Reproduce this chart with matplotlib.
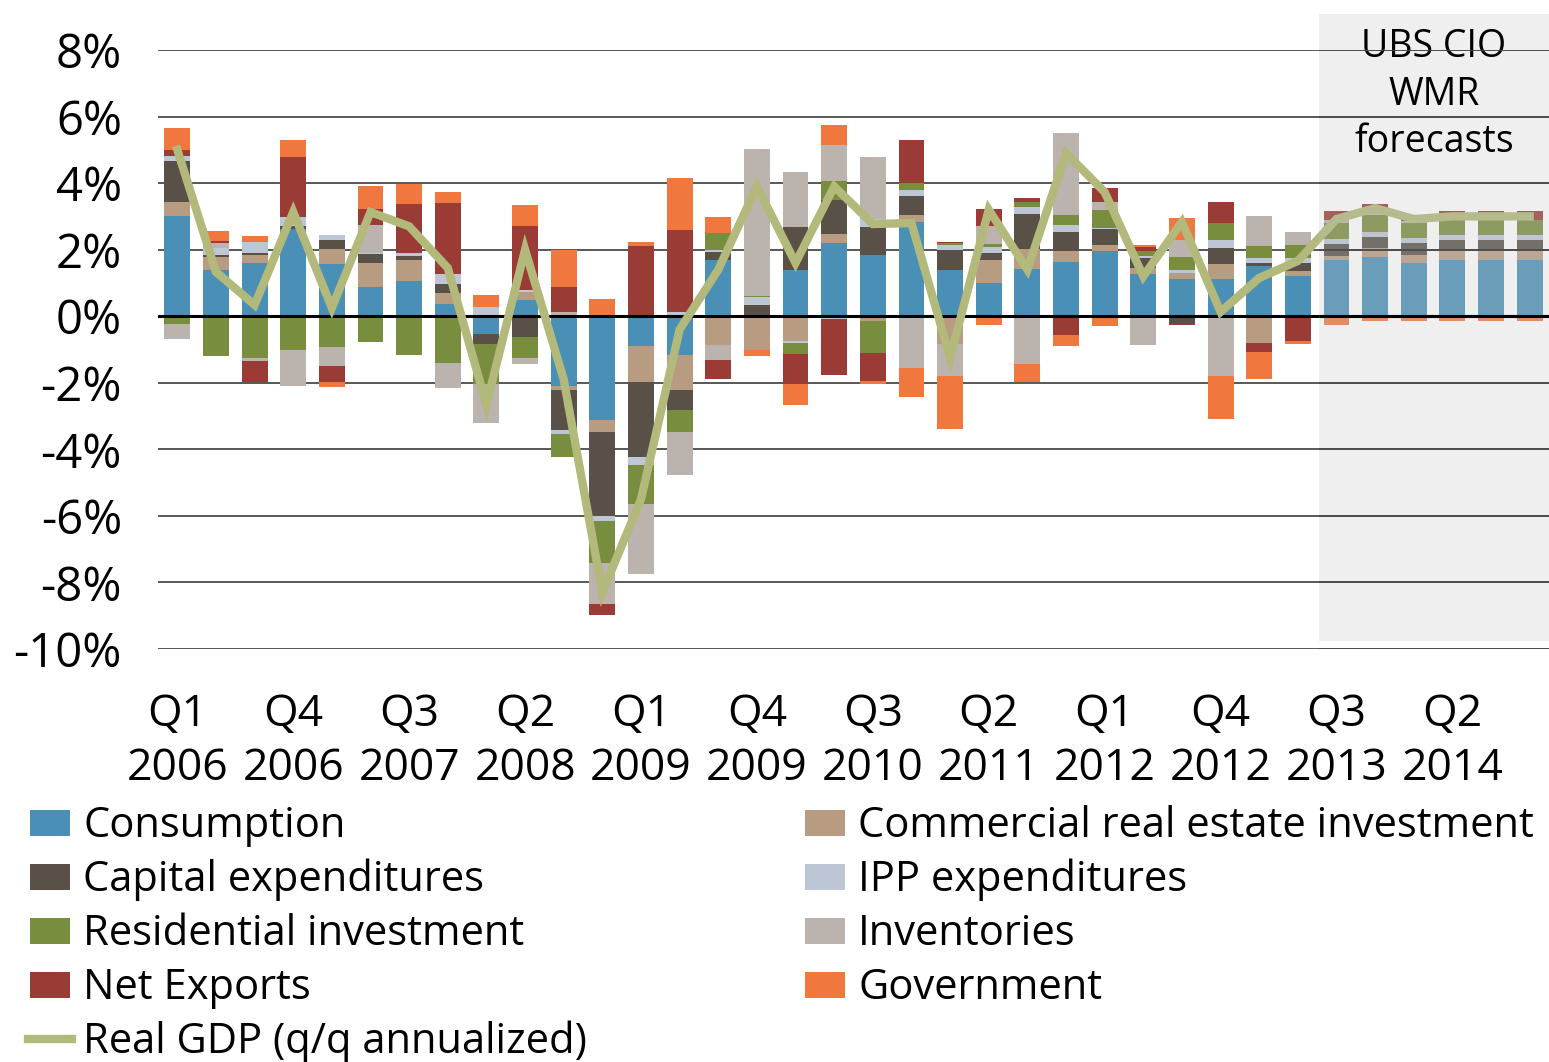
import matplotlib
matplotlib.use('Agg')
import matplotlib.pyplot as plt
from matplotlib.patches import Rectangle
from matplotlib.lines import Line2D
import numpy as np

plt.rcParams['font.family'] = ['Open Sans', 'DejaVu Sans']

# ── data: contributions to real GDP growth (pp, q/q annualized) ──
quarters = ["Q1 2006", "Q2 2006", "Q3 2006", "Q4 2006", "Q1 2007", "Q2 2007", "Q3 2007", "Q4 2007",
            "Q1 2008", "Q2 2008", "Q3 2008", "Q4 2008", "Q1 2009", "Q2 2009", "Q3 2009", "Q4 2009",
            "Q1 2010", "Q2 2010", "Q3 2010", "Q4 2010", "Q1 2011", "Q2 2011", "Q3 2011", "Q4 2011",
            "Q1 2012", "Q2 2012", "Q3 2012", "Q4 2012", "Q1 2013", "Q2 2013", "Q3 2013", "Q4 2013",
            "Q1 2014", "Q2 2014", "Q3 2014", "Q4 2014"]

consumption = [3.01, 1.39, 1.60, 2.62, 1.57, 0.88, 1.06, 0.37, -0.54, 0.48, -2.10, -3.12,
               -0.90, -1.17, 1.68, 0.00, 1.39, 2.20, 1.84, 2.83, 1.39, 1.00, 1.42, 1.63,
               1.96, 1.27, 1.12, 1.12, 1.51, 1.21, 1.69, 1.78, 1.60, 1.69, 1.69, 1.69]
commercial_re = [0.42, 0.40, 0.24, 0.00, 0.45, 0.72, 0.63, 0.33, 0.00, 0.24, -0.12, -0.36,
                 -1.08, -1.05, -0.87, -1.01, -0.74, 0.27, -0.14, 0.21, -0.83, 0.69, 0.60, 0.33,
                 0.18, 0.18, 0.18, 0.45, -0.80, 0.15, 0.12, 0.27, 0.24, 0.27, 0.27, 0.27]
capex = [1.23, 0.06, 0.06, 0.09, 0.27, 0.27, 0.12, 0.27, -0.30, -0.63, -1.20, -2.52,
         -2.25, -0.60, 0.24, 0.34, 1.29, 1.02, 0.84, 0.57, 0.60, 0.21, 1.05, 0.57,
         0.48, 0.30, -0.23, 0.48, 0.09, 0.24, 0.36, 0.33, 0.36, 0.33, 0.33, 0.33]
ipp = [0.15, 0.21, 0.33, 0.27, 0.15, 0.03, 0.09, 0.30, 0.27, 0.06, -0.12, -0.15,
       -0.24, 0.12, 0.06, 0.24, -0.06, -0.08, 0.24, 0.18, 0.15, 0.18, 0.21, 0.21,
       0.03, 0.06, 0.09, 0.24, 0.15, 0.15, 0.15, 0.15, 0.15, 0.15, 0.15, 0.15]
residential = [-0.23, -1.19, -1.25, -1.01, -0.92, -0.77, -1.16, -1.40, -1.20, -0.63, -0.69, -1.26,
               -1.17, -0.66, 0.51, 0.04, -0.33, 0.57, -0.96, 0.21, 0.06, 0.09, 0.15, 0.30,
               0.54, 0.15, 0.39, 0.51, 0.36, 0.39, 0.48, 0.51, 0.45, 0.45, 0.45, 0.45]
inventories = [-0.45, 0.14, -0.09, -1.10, -0.57, 0.84, 0.00, -0.75, -1.17, -0.18, 0.12, -1.23,
               -2.10, -1.29, -0.45, 4.40, 1.65, 1.08, 1.86, -1.55, -0.96, 0.54, -1.43, 2.46,
               0.24, -0.86, 0.51, -1.79, 0.90, 0.39, 0.09, 0.10, 0.06, 0.00, 0.00, 0.00]
net_exports = [0.18, 0.06, -0.63, 1.80, -0.48, 0.48, 1.47, 2.13, 0.00, 1.92, 0.75, -0.33,
               2.10, 2.46, -0.57, 0.00, -0.90, -1.68, -0.84, 1.29, 0.03, 0.51, 0.12, -0.56,
               0.42, 0.12, -0.03, 0.63, -0.27, -0.74, 0.27, 0.23, 0.18, 0.27, 0.27, 0.27]
government = [0.66, 0.30, 0.18, 0.51, -0.17, 0.69, 0.61, 0.33, 0.36, 0.63, 1.11, 0.51,
              0.12, 1.56, 0.48, -0.18, -0.63, 0.60, -0.09, -0.87, -1.59, -0.26, -0.54, -0.33,
              -0.29, 0.06, 0.66, -1.29, -0.81, -0.09, -0.26, -0.14, -0.14, -0.14, -0.14, -0.14]
real_gdp = [5.0, 1.33, 0.34, 3.13, 0.25, 3.13, 2.7, 1.45, -2.66, 2.0, -1.9, -8.3,
            -5.5, -0.4, 1.4, 3.9, 1.6, 3.9, 2.77, 2.8, -1.25, 3.2, 1.4, 4.9,
            3.73, 1.2, 2.83, 0.13, 1.15, 1.66, 2.92, 3.25, 2.92, 3.0, 3.0, 3.0]
forecast_start = "Q3 2013"

series = [("Consumption", consumption, "#4a8fb5"),
          ("Commercial real estate investment", commercial_re, "#b89c82"),
          ("Capital expenditures", capex, "#595048"),
          ("IPP expenditures", ipp, "#bcc6d5"),
          ("Residential investment", residential, "#798d3f"),
          ("Inventories", inventories, "#bbb3ad"),
          ("Net Exports", net_exports, "#9a3b36"),
          ("Government", government, "#f0783f")]
GDP_COL = "#b2b97a"

W, H = 1549, 1062
fig = plt.figure(figsize=(W / 100, H / 100), dpi=100, facecolor='white')
ax = fig.add_axes([158 / W, 1 - 649 / H, 1391 / W, 599 / H])
FS = 32

x = np.arange(len(quarters))
pos = np.zeros(len(x))
neg = np.zeros(len(x))
for name, vals, col in series:
    v = np.array(vals)
    base = np.where(v >= 0, pos, neg)
    ax.bar(x, v, bottom=base, width=0.67, color=col, zorder=2, linewidth=0)
    pos = pos + np.where(v >= 0, v, 0)
    neg = neg + np.where(v < 0, v, 0)

ax.plot(x, real_gdp, color=GDP_COL, lw=6, zorder=5, solid_joinstyle='miter')

ax.set_xlim(-0.5, len(x) - 0.5)
ax.set_ylim(-10, 8)
yt = np.arange(-10, 9, 2)
for v in yt:
    if v != 0:
        ax.axhline(v, color='#4a4a4a', lw=1.3, zorder=0.5)
ax.axhline(0, color='black', lw=2.2, zorder=4)

# forecast box
f0 = quarters.index(forecast_start) - 0.45
ax.add_patch(Rectangle((f0, -9.76), len(x) - 0.5 - f0, 18.84, facecolor='#c4c4c4',
                       alpha=0.27, edgecolor='none', zorder=6, clip_on=False))
for v in yt:
    if v != 0:
        ax.hlines(v, f0, len(x) - 0.5, color='#4a4a4a', lw=1.3, zorder=7)
ax.hlines(0, f0, len(x) - 0.5, color='black', lw=2.2, zorder=7)
ax.text((f0 + len(x) - 0.5) / 2, 6.65, "UBS CIO\nWMR\nforecasts", ha='center', va='center',
        fontsize=27, linespacing=1.33, zorder=6.5)

ax.set_yticks(yt)
ax.set_yticklabels([f"{v}%" for v in yt], fontsize=34)
ticks = x[::3]
ax.set_xticks(ticks)
ax.set_xticklabels([quarters[i].replace(" ", "\n") for i in ticks], fontsize=FS, linespacing=1.3)
ax.tick_params(axis='both', length=0)
ax.tick_params(axis='y', pad=26)
ax.tick_params(axis='x', pad=31)
for s in ax.spines.values():
    s.set_visible(False)

# legend (Excel-style, two columns)
def fx(px):
    return px / W

def fy(py):
    return 1 - py / H

LFS = 30
rows = [823, 877, 931, 985, 1039]
left = [series[0], series[2], series[4], series[6]]
right = [series[1], series[3], series[5], series[7]]
for col_x, items in ((30, left), (805, right)):
    for r, (name, _, col) in zip(rows, items):
        fig.patches.append(Rectangle((fx(col_x), fy(r + 13)), fx(40), 26 / H, facecolor=col,
                                     transform=fig.transFigure, figure=fig))
        fig.text(fx(col_x + 53), fy(r + 3), name, ha='left', va='center', fontsize=LFS)
fig.lines.append(Line2D([fx(28), fx(72)], [fy(rows[4]), fy(rows[4])], color=GDP_COL, lw=6,
                        transform=fig.transFigure, figure=fig))
fig.text(fx(83), fy(rows[4] + 3), "Real GDP (q/q annualized)", ha='left', va='center', fontsize=LFS)

plt.savefig('out.png', dpi=100, facecolor='white')
